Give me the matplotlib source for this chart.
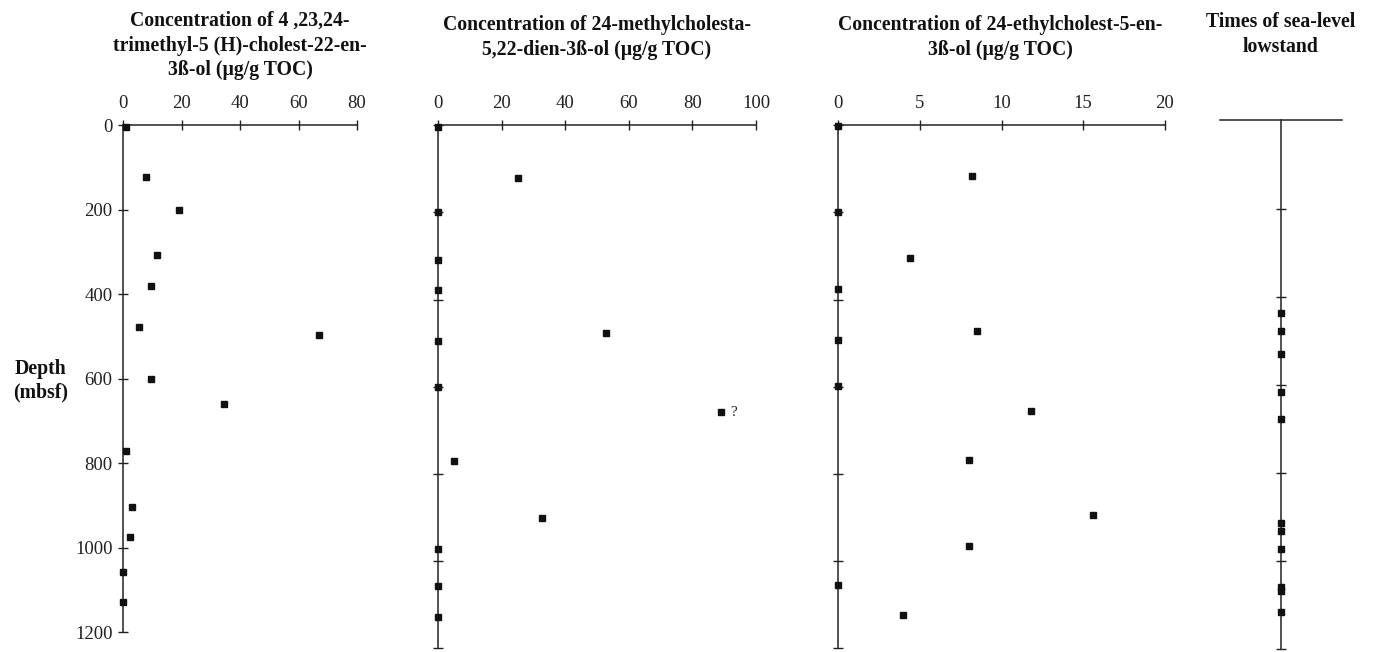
import matplotlib
matplotlib.use("Agg")
import matplotlib.pyplot as plt

plt.rcParams['font.family'] = ['Liberation Serif', 'DejaVu Serif']

# depth (mbsf) and concentrations
depth_a = [5, 122, 201, 308, 380, 478, 497, 601, 660, 772, 903, 974, 1058, 1129]
conc_a = [1, 8, 19, 11.5, 9.5, 5.3, 67, 9.5, 34.5, 1, 3, 2.3, 0, 0]

depth_b = [5, 126, 206, 319, 391, 511, 492, 620, 680, 796, 930, 1003, 1091, 1164]
conc_b = [0, 25, 0, 0, 0, 0, 52.9, 0, 88.9, 4.9, 32.7, 0, 0, 0]

depth_c = [3, 120, 205, 315, 389, 487, 509, 617, 676, 792, 922, 997, 1089, 1160]
conc_c = [0, 8.2, 0, 4.4, 0, 8.5, 0, 0, 11.8, 8.0, 15.6, 8.0, 0, 4.0]

lowstand_depth = [445, 487, 542, 633, 696, 941, 961, 1003, 1094, 1102, 1152]

titles = ["Concentration of 4 ,23,24-\ntrimethyl-5 (H)-cholest-22-en-\n3ß-ol (µg/g TOC)",
          "Concentration of 24-methylcholesta-\n5,22-dien-3ß-ol (µg/g TOC)",
          "Concentration of 24-ethylcholest-5-en-\n3ß-ol (µg/g TOC)",
          "Times of sea-level\nlowstand"]

xticks_a = [0, 20, 40, 60, 80]
xticks_b = [0, 20, 40, 60, 80, 100]
xticks_c = [0, 5, 10, 15, 20]
depth_ticks = [0, 200, 400, 600, 800, 1000, 1200]
depth_ticks_b = [0, 206, 413, 619, 825, 1031, 1238]
lowstand_ticks = [199, 407, 616, 824, 1031, 1240]

W, H = 1378, 652
fig = plt.figure(figsize=(W / 100, H / 100), dpi=100)
YTOP, YBOT = 118, 650
ylim = (1242.6, -16.6)
ink = '#222222'


def add_axes(l, r):
    ax = fig.add_axes([l / W, 1 - YBOT / H, (r - l) / W, (YBOT - YTOP) / H])
    ax.patch.set_alpha(0)
    ax.set_ylim(*ylim)
    for s in ['right', 'bottom']:
        ax.spines[s].set_visible(False)
    for s in ['top', 'left']:
        ax.spines[s].set_color(ink)
        ax.spines[s].set_linewidth(1.1)
    return ax


def conc_panel(l, r, conc, depth, xticks, yticks, ylabels):
    ax = add_axes(l, r)
    ax.set_xlim(xticks[0], xticks[-1])
    ax.spines['top'].set_position(('data', 0))
    ax.spines['top'].set_bounds(xticks[0], xticks[-1])
    ax.spines['left'].set_bounds(0, yticks[-1])
    ax.xaxis.tick_top()
    ax.set_xticks(xticks)
    ax.set_yticks(yticks)
    ax.tick_params(axis='x', direction='inout', length=7, width=1, pad=6,
                   labelsize=13.5, colors=ink)
    ax.tick_params(axis='y', direction='inout', length=7, width=1, pad=4,
                   labelsize=13.5, colors=ink, labelleft=ylabels)
    ax.plot(conc, depth, 's', color='#111111', ms=5, clip_on=False, zorder=3)
    return ax


ax1 = conc_panel(123, 357, conc_a, depth_a, xticks_a, depth_ticks, True)
ax2 = conc_panel(438, 756, conc_b, depth_b, xticks_b, depth_ticks_b, False)
ax3 = conc_panel(838, 1165, conc_c, depth_c, xticks_c, depth_ticks_b, False)
ax2.annotate('?', (conc_b[8], depth_b[8]), xytext=(7, 0), textcoords='offset points',
             va='center', fontsize=11, color=ink)

ax4 = add_axes(1220, 1342)
ax4.set_xlim(-1, 1)
ax4.spines['left'].set_position(('data', 0))
ax4.spines['left'].set_bounds(-12, 1240)
ax4.spines['top'].set_position(('data', -12))
ax4.spines['top'].set_bounds(-1, 1)
ax4.set_xticks([])
ax4.set_yticks(lowstand_ticks)
ax4.tick_params(axis='y', direction='inout', length=7, width=1, labelleft=False, colors=ink)
ax4.plot([0] * len(lowstand_depth), lowstand_depth, 's', color='#111111', ms=5,
         clip_on=False, zorder=3)

# titles
title_x = [240, 597, 1000, 1281]
title_top = [11, 15, 15, 12]
for t, x, y in zip(titles, title_x, title_top):
    fig.text(x / W, 1 - y / H, t, ha='center', va='top', fontsize=14.2,
             fontweight='bold', linespacing=1.3, color='#111111')

fig.text(41 / W, 1 - 381 / H, "Depth\n(mbsf)", ha='center', va='center',
         fontsize=14.2, fontweight='bold', linespacing=1.25, color='#111111')

fig.savefig("out.png", dpi=100)
